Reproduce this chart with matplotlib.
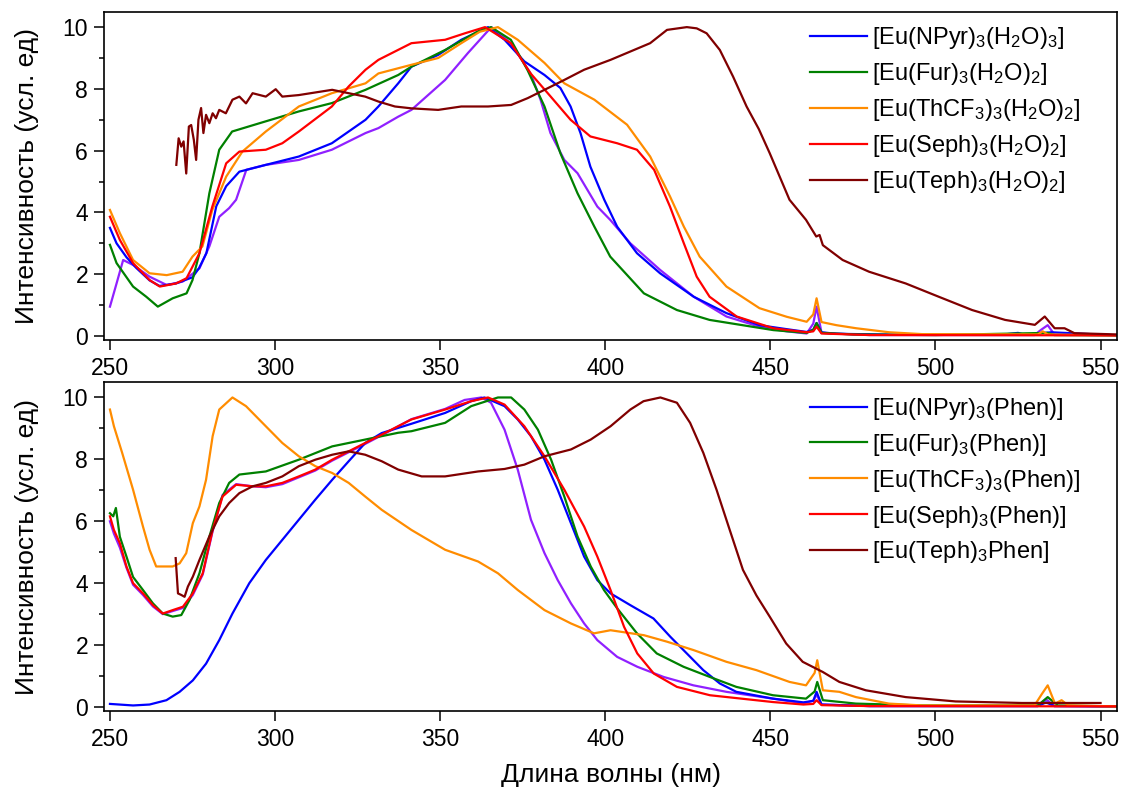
import matplotlib
matplotlib.use('Agg')
import matplotlib.pyplot as plt
from matplotlib.ticker import MultipleLocator

plt.rcParams['font.family'] = ['Liberation Sans', 'DejaVu Sans']
plt.rcParams['mathtext.default'] = 'regular'

# ---- top panel: aqua complexes ----
t_npyr_x = [250, 252, 255, 258, 262, 265, 270, 275, 277, 279.2, 282.2, 285.2, 289.2, 297.2, 307.2, 317.2, 327.4, 331.3,
            337.3, 341.3, 349.4, 356.4, 364.5, 369.5, 375.5, 381.6, 386.4, 389.5, 392.5, 395.5, 399.7, 403.6, 409.6,
            416.6, 426.8, 436.7, 446.7, 455, 461, 463, 464, 465.5, 470, 490, 520, 525, 527, 535, 555]
t_npyr_y = [3.5, 3.0, 2.55, 2.2, 1.8, 1.62, 1.7, 1.9, 2.2, 2.68, 4.2, 4.85, 5.32, 5.54, 5.81, 6.24, 7.0, 7.43,
            8.18, 8.72, 9.1, 9.59, 10.0, 9.59, 8.89, 8.45, 8.03, 7.43, 6.57, 5.48, 4.41, 3.54, 2.68,
            2.03, 1.27, 0.74, 0.35, 0.22, 0.13, 0.2, 0.42, 0.12, 0.07, 0.04, 0.04, 0.1, 0.04, 0.12, 0.02]

t_fur_x = [250, 252, 257, 261, 264.5, 269, 273.2, 275, 277.1, 280.1, 283.1, 287, 297.2, 307.2, 317.2, 327.4, 337.3,
           341.3, 351.5, 361.4, 365.4, 371.4, 376.5, 381.6, 386.4, 391.6, 396.7, 401.5, 411.7, 421.7, 431.6, 450.9,
           461, 463, 464, 465.5, 475, 500, 534, 536, 555]
t_fur_y = [2.95, 2.36, 1.6, 1.27, 0.95, 1.22, 1.38, 1.81, 2.68, 4.62, 6.03, 6.62, 6.95, 7.27, 7.54, 7.97, 8.45,
           8.72, 9.26, 9.86, 10.0, 9.59, 8.6, 7.43, 5.92, 4.62, 3.54, 2.57, 1.38, 0.84, 0.52, 0.19,
           0.1, 0.2, 0.42, 0.1, 0.05, 0.03, 0.1, 0.03, 0.02]

t_thcf3_x = [250, 253, 257, 262, 267.2, 272, 275, 278, 281, 285.2, 290.1, 297.2, 307.2, 317.2, 327.4, 331.3, 341.3,
             349.4, 356.4, 362, 367.5, 373.5, 381.6, 387.6, 396.7, 406.6, 413.6, 419.6, 423.8, 428.6, 436.7, 446.7,
             455, 461, 463, 464, 465.5, 470, 476, 486, 496, 531, 532.5, 534, 555]
t_thcf3_y = [4.08, 3.33, 2.46, 2.03, 1.97, 2.08, 2.57, 2.9, 4.08, 5.16, 5.97, 6.62, 7.43, 7.86, 8.18, 8.5, 8.78,
             9.0, 9.48, 9.85, 10.0, 9.59, 8.84, 8.18, 7.65, 6.84, 5.81, 4.52, 3.54, 2.57, 1.6, 0.9,
             0.62, 0.46, 0.7, 1.22, 0.45, 0.35, 0.25, 0.12, 0.06, 0.05, 0.15, 0.05, 0.02]

t_seph_x = [250, 253, 257, 262, 265.1, 270, 273.2, 277.1, 281, 285.2, 289.2, 297.2, 302.2, 307.2, 317.2, 322.3, 327.4,
            331.3, 341.3, 351.5, 357.5, 363.6, 371.4, 377.4, 383.4, 389.5, 395.5, 403.6, 409.6, 414.8, 419.6, 423.8,
            427.7, 431.6, 439.8, 450.9, 461, 463, 464, 465.5, 480, 555]
t_seph_y = [3.86, 3.11, 2.36, 1.81, 1.6, 1.7, 1.87, 2.68, 4.19, 5.59, 5.97, 6.03, 6.24, 6.62, 7.43, 8.08, 8.62,
            8.94, 9.48, 9.59, 9.8, 10.0, 9.48, 8.5, 7.76, 7.0, 6.46, 6.24, 6.03, 5.38, 4.19, 3.0,
            1.92, 1.27, 0.63, 0.25, 0.12, 0.15, 0.3, 0.08, 0.03, 0.02]

t_extra_x = [250, 252, 254, 257, 262, 267.2, 272, 277.1, 280.1, 283.1, 286.1, 288.2, 291.3, 297.2, 307.2, 317.2, 327.4,
             331.3, 337.3, 341.3, 351.5, 358.4, 365.5, 371.4, 377.4, 380.4, 383.4, 387.6, 391.6, 397.6, 401.5, 407.6,
             416.6, 426.8, 436.7, 446.7, 455, 461, 463, 464, 465.5, 480, 530, 532, 534, 536, 555]
t_extra_y = [0.95, 1.7, 2.46, 2.3, 1.92, 1.65, 1.76, 2.19, 2.9, 3.86, 4.14, 4.41, 5.38, 5.54, 5.7, 6.03, 6.57,
             6.73, 7.1, 7.32, 8.29, 9.16, 10.0, 9.48, 8.5, 7.65, 6.57, 5.7, 5.27, 4.19, 3.76, 3.0,
             2.14, 1.27, 0.63, 0.3, 0.15, 0.08, 0.4, 0.95, 0.1, 0.03, 0.03, 0.2, 0.35, 0.05, 0.02]

t_teph_x = [270.1, 270.8, 271.6, 272.3, 273.1, 273.9, 274.6, 275.4, 276.1, 276.8, 277.6, 278.3, 279.1, 280.1, 281.1,
            282.1, 283.1, 285.1, 287.1, 289.2, 291.2, 293.2, 297.2, 300.2, 302.2, 307.2, 317.3, 322.3, 327.3, 331.3,
            336.3, 341.3, 349.4, 356.4, 364.5, 371.5, 376.5, 381.6, 387.6, 393.6, 401.6, 407.6, 413.6, 418.7, 424.7,
            427.7, 430.7, 434.7, 438.7, 442.8, 446.5, 449.8, 455.8, 460.8, 463.9, 464.9, 465.9, 471.9, 479.9, 491.0,
            501.0, 511.1, 521.1, 530.1, 533.1, 536.1, 539.1, 542.1, 555]
t_teph_y = [5.54, 6.40, 6.13, 6.30, 5.26, 6.78, 6.83, 6.35, 5.70, 7.00, 7.38, 6.57, 7.16, 6.89, 7.21,
            7.05, 7.32, 7.21, 7.65, 7.75, 7.53, 7.86, 7.75, 7.99, 7.75, 7.80, 7.97, 7.86, 7.75, 7.59,
            7.43, 7.37, 7.32, 7.43, 7.43, 7.48, 7.7, 7.97, 8.29, 8.62, 8.94, 9.21, 9.48, 9.91, 10.0,
            9.96, 9.8, 9.26, 8.4, 7.43, 6.7, 5.92, 4.41, 3.76, 3.22, 3.27, 2.94, 2.46, 2.08, 1.7,
            1.27, 0.84, 0.52, 0.36, 0.63, 0.25, 0.25, 0.09, 0.05]

# ---- bottom panel: phenanthroline complexes ----
b_npyr_x = [250, 257, 262, 267.1, 271.1, 275.1, 279.1, 283.1, 287.1, 292.2, 297.2, 302.2, 307.2, 312.2, 317.3, 322.3,
            327.3, 332.3, 341.3, 351.5, 359.4, 363.4, 369.5, 373.5, 377.5, 381.6, 385.6, 389.6, 393.6, 397.6, 401.6,
            407.6, 414.6, 419.7, 424.7, 429.7, 434.7, 439.7, 450.8, 460, 463, 464, 465.5, 480, 531, 533.5, 536, 555]
b_npyr_y = [0.1, 0.05, 0.08, 0.22, 0.49, 0.86, 1.4, 2.16, 3.02, 4.0, 4.75, 5.4, 6.05, 6.7, 7.34, 7.94,
            8.53, 8.85, 9.15, 9.5, 9.88, 10.0, 9.72, 9.29, 8.75, 7.99, 7.02, 5.94, 4.86, 4.1, 3.67,
            3.29, 2.86, 2.27, 1.73, 1.19, 0.76, 0.49, 0.27, 0.15, 0.2, 0.49, 0.08, 0.03, 0.03, 0.15, 0.03, 0.02]

b_fur_x = [250, 251, 251.8, 253, 255, 257, 260, 263, 266, 269, 271.6, 274.1, 277.1, 280.1, 283.1, 286.1, 289.2,
           297.2, 307.2, 317.3, 327.3, 337.3, 341.3, 351.5, 359.4, 367.5, 371.5, 375.5, 379.6, 383.6, 387.6, 391.6,
           395.6, 399.6, 403.6, 409.6, 415.6, 423.7, 431.7, 439.7, 450.8, 460.8, 463.4, 464.2, 465.9, 475.9, 496,
           531, 534, 537, 555]
b_fur_y = [6.26, 6.16, 6.43, 5.5, 4.86, 4.2, 3.78, 3.35, 3.02, 2.92, 2.97, 3.46, 4.32, 5.5, 6.59, 7.24, 7.51,
           7.61, 7.99, 8.42, 8.64, 8.86, 8.91, 9.18, 9.72, 10.0, 10.0, 9.61, 8.96, 7.99, 6.8, 5.51,
           4.54, 3.78, 3.19, 2.38, 1.73, 1.3, 0.97, 0.65, 0.38, 0.27, 0.5, 0.81, 0.22, 0.11, 0.05,
           0.05, 0.32, 0.05, 0.02]

b_thcf3_x = [250, 251.2, 253.7, 257, 260, 262, 264, 266, 269, 271.1, 273.1, 275.1, 277.1, 279.1, 281.1, 283.1, 287.1,
             291.2, 297.2, 302.2, 307.2, 312.2, 317.3, 322.3, 327.3, 332.3, 341.3, 351.5, 361.5, 367.5, 373.5, 381.6,
             389.6, 396.6, 401.6, 411.7, 418.7, 426.7, 436.7, 445.8, 455.8, 460.8, 463.4, 464.2, 465.9, 470.9, 475.9,
             485.9, 496, 530, 532.1, 534, 536.2, 538.2, 540.2, 555]
b_thcf3_y = [9.61, 9.07, 8.21, 7.02, 5.83, 5.08, 4.54, 4.54, 4.54, 4.64, 4.97, 5.94, 6.48, 7.34, 8.75, 9.61, 10.0,
             9.72, 9.07, 8.53, 8.1, 7.78, 7.56, 7.24, 6.8, 6.37, 5.72, 5.08, 4.7, 4.32, 3.78, 3.13,
             2.7, 2.38, 2.48, 2.32, 2.11, 1.84, 1.46, 1.19, 0.81, 0.7, 1.1, 1.51, 0.54, 0.49, 0.32,
             0.11, 0.05, 0.05, 0.4, 0.7, 0.11, 0.22, 0.05, 0.02]

b_seph_x = [250, 251.2, 253, 255, 257, 260, 263, 266, 269, 272.1, 275.1, 278.1, 281.1, 284.1, 288.2, 293.2, 297.2,
            302.2, 307.2, 312.2, 317.3, 322.3, 327.3, 332.3, 341.3, 351.5, 359.4, 364.5, 369.5, 375.5, 381.6, 387.6,
            393.6, 397.6, 401.6, 405.7, 409.7, 414.7, 421.7, 431.7, 450.8, 460, 463, 464, 465.5, 480, 555]
b_seph_y = [6.16, 5.72, 5.29, 4.54, 4.0, 3.67, 3.29, 3.02, 3.13, 3.24, 3.67, 4.32, 5.72, 6.8, 7.18, 7.13, 7.13,
            7.24, 7.45, 7.67, 7.99, 8.26, 8.53, 8.8, 9.29, 9.61, 9.88, 10.0, 9.77, 9.07, 8.1, 7.02,
            5.83, 4.86, 3.78, 2.59, 1.73, 1.08, 0.65, 0.38, 0.16, 0.08, 0.1, 0.22, 0.06, 0.03, 0.02]

b_extra_x = [250, 251.2, 253, 255, 257, 260, 263, 266, 269, 272.1, 275.1, 278.1, 281.1, 284.1, 288.2, 293.2, 297.2,
             302.2, 307.2, 312.2, 317.3, 322.3, 327.3, 332.3, 341.3, 351.5, 357.4, 362.5, 365.4, 369.5, 373.5, 377.5,
             381.6, 385.6, 389.6, 393.6, 397.6, 403.6, 409.7, 417.7, 426.7, 436.7, 450.8, 460, 463, 464, 465.5, 480,
             531, 533.5, 536, 555]
b_extra_y = [6.0, 5.6, 5.15, 4.5, 3.95, 3.62, 3.25, 3.0, 3.1, 3.2, 3.62, 4.28, 5.68, 6.85, 7.2, 7.13, 7.1,
             7.2, 7.42, 7.64, 7.96, 8.23, 8.5, 8.78, 9.3, 9.63, 9.92, 10.0, 9.83, 8.96, 7.67, 6.05,
             4.97, 4.1, 3.35, 2.7, 2.16, 1.62, 1.3, 0.97, 0.7, 0.49, 0.27, 0.12, 0.2, 0.4, 0.08, 0.03,
             0.03, 0.25, 0.03, 0.02]

b_teph_x = [269.9, 270.6, 271.6, 272.6, 273.6, 275.1, 277.1, 280.1, 283.1, 286.1, 289.2, 293.2, 297.2, 302.2, 307.2,
            312.2, 317.3, 322.3, 327.3, 332.3, 337.3, 344.4, 351.5, 361.5, 369.5, 375.5, 381.6, 389.6, 395.6, 401.6,
            407.6, 411.6, 416.7, 421.7, 425.7, 429.7, 433.7, 437.7, 441.7, 445.8, 449.8, 454.8, 459.8, 465.9, 470.9,
            478.9, 491, 506.1, 526.2, 550]
b_teph_y = [4.81, 3.67, 3.62, 3.56, 3.89, 4.21, 4.75, 5.51, 6.16, 6.59, 6.91, 7.13, 7.24, 7.45, 7.78,
            7.99, 8.15, 8.26, 8.15, 7.94, 7.67, 7.45, 7.45, 7.61, 7.69, 7.83, 8.1, 8.32, 8.64, 9.07,
            9.61, 9.88, 10.0, 9.83, 9.18, 8.21, 7.02, 5.72, 4.43, 3.6, 2.92, 2.05, 1.46, 1.13, 0.81,
            0.54, 0.32, 0.18, 0.13, 0.13]

top_labels = [r'[Eu(NPyr)$_3$(H$_2$O)$_3$]', r'[Eu(Fur)$_3$(H$_2$O)$_2$]', r'[Eu(ThCF$_3$)$_3$(H$_2$O)$_2$]',
              r'[Eu(Seph)$_3$(H$_2$O)$_2$]', r'[Eu(Teph)$_3$(H$_2$O)$_2$]']
bot_labels = [r'[Eu(NPyr)$_3$(Phen)]', r'[Eu(Fur)$_3$(Phen)]', r'[Eu(ThCF$_3$)$_3$(Phen)]',
              r'[Eu(Seph)$_3$(Phen)]', r'[Eu(Teph)$_3$Phen]']

c_blue, c_green, c_orange, c_red, c_dred, c_purple = '#0000FF', '#008000', '#FF8C00', '#FF0000', '#800000', '#9020FF'

fig = plt.figure(figsize=(11.22, 7.94), dpi=100)
ax1 = fig.add_axes([0.0927, 0.5718, 0.9029, 0.4135])
ax2 = fig.add_axes([0.0927, 0.1045, 0.9029, 0.4144])

lw = 1.6
series_top = [(t_npyr_x, t_npyr_y, c_blue), (t_fur_x, t_fur_y, c_green), (t_thcf3_x, t_thcf3_y, c_orange),
              (t_seph_x, t_seph_y, c_red), (t_teph_x, t_teph_y, c_dred)]
series_bot = [(b_npyr_x, b_npyr_y, c_blue), (b_fur_x, b_fur_y, c_green), (b_thcf3_x, b_thcf3_y, c_orange),
              (b_seph_x, b_seph_y, c_red), (b_teph_x, b_teph_y, c_dred)]

for ax, series, extra, labels in [(ax1, series_top, (t_extra_x, t_extra_y), top_labels),
                                  (ax2, series_bot, (b_extra_x, b_extra_y), bot_labels)]:
    ax.plot(extra[0], extra[1], color=c_purple, lw=lw)
    handles = []
    for (x, y, c), lab in zip(series, labels):
        h, = ax.plot(x, y, color=c, lw=lw, label=lab)
        handles.append(h)
    ax.set_xlim(248.2, 555)
    ax.set_ylim(-0.13, 10.5)
    ax.set_xticks(range(250, 551, 50))
    ax.set_yticks(range(0, 11, 2))
    ax.yaxis.set_minor_locator(MultipleLocator(1))
    ax.tick_params(axis='both', which='major', direction='out', length=7, width=1.1, labelsize=16.5)
    ax.tick_params(axis='x', which='major', pad=5)
    ax.tick_params(axis='y', which='major', pad=4.5)
    ax.tick_params(axis='y', which='minor', direction='out', length=3.8, width=1.1)
    for sp in ax.spines.values():
        sp.set_linewidth(1.2)
    ax.set_ylabel('Интенсивность (усл. ед)', fontsize=19, labelpad=17)
    ax.legend(handles=handles, loc='upper left', bbox_to_anchor=(0.697, 0.958), frameon=False, fontsize=17,
              handlelength=2.4, handletextpad=0.21, labelspacing=0.42, borderpad=0, borderaxespad=0)

ax2.set_xlabel('Длина волны (нм)', fontsize=19, labelpad=9)

fig.savefig('out.png', dpi=100)
